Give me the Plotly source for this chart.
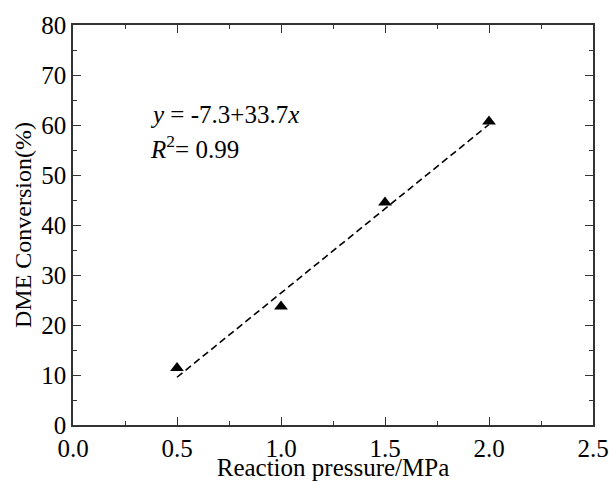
import plotly.graph_objects as go

pressure = [0.5, 1.0, 1.5, 2.0]
conversion = [11.4, 23.7, 44.5, 60.7]
fit_x = [0.5, 2.0]
fit_y = [9.55, 60.1]
x_ticks = [0.0, 0.5, 1.0, 1.5, 2.0, 2.5]
x_tick_labels = ["0.0", "0.5", "1.0", "1.5", "2.0", "2.5"]
y_ticks = [0, 10, 20, 30, 40, 50, 60, 70, 80]

FONT = "Liberation Serif"

fig = go.Figure()
fig.add_trace(go.Scatter(x=fit_x, y=fit_y, mode="lines",
                         line=dict(color="black", width=1.6, dash="7px,4px"),
                         showlegend=False))
fig.add_trace(go.Scatter(x=pressure, y=conversion, mode="markers",
                         marker=dict(symbol="triangle-up", size=12, color="black"),
                         showlegend=False))

fig.add_annotation(x=0.144, y=0.775, xref="paper", yref="paper", xanchor="left", yanchor="middle",
                   text="<i>y</i> = -7.3+33.7<i>x</i>", showarrow=False,
                   font=dict(family=FONT, size=25, color="black"))
fig.add_annotation(x=0.144, y=0.695, xref="paper", yref="paper", xanchor="left", yanchor="middle",
                   text="<i>R</i><sup>2</sup>= 0.99", showarrow=False,
                   font=dict(family=FONT, size=25, color="black"))

axis_common = dict(showgrid=False, zeroline=False, showline=True, linecolor="#333",
                   linewidth=1.5, mirror="ticks", ticks="inside", ticklen=8,
                   tickwidth=1.2, tickcolor="#333", automargin=False,
                   tickfont=dict(family=FONT, size=25, color="black"))

fig.update_xaxes(range=[0, 2.5], tickvals=x_ticks, ticktext=x_tick_labels,
                 minor=dict(ticks="inside", ticklen=4, dtick=0.25, tickcolor="#333", tickwidth=1),
                 title=dict(text="Reaction pressure/MPa", font=dict(family=FONT, size=25, color="black"),
                            standoff=3),
                 **axis_common)
fig.update_yaxes(range=[0, 80], tickvals=y_ticks,
                 minor=dict(ticks="inside", ticklen=4, dtick=5, tickcolor="#333", tickwidth=1),
                 title=dict(text="DME Conversion(%)", font=dict(family=FONT, size=24, color="black"),
                            standoff=3),
                 **axis_common)

fig.update_layout(width=609, height=481, margin=dict(l=73, r=16, t=25, b=56),
                  font=dict(family=FONT, color="black"),
                  plot_bgcolor="white", paper_bgcolor="white")
fig.write_html("out.html")
